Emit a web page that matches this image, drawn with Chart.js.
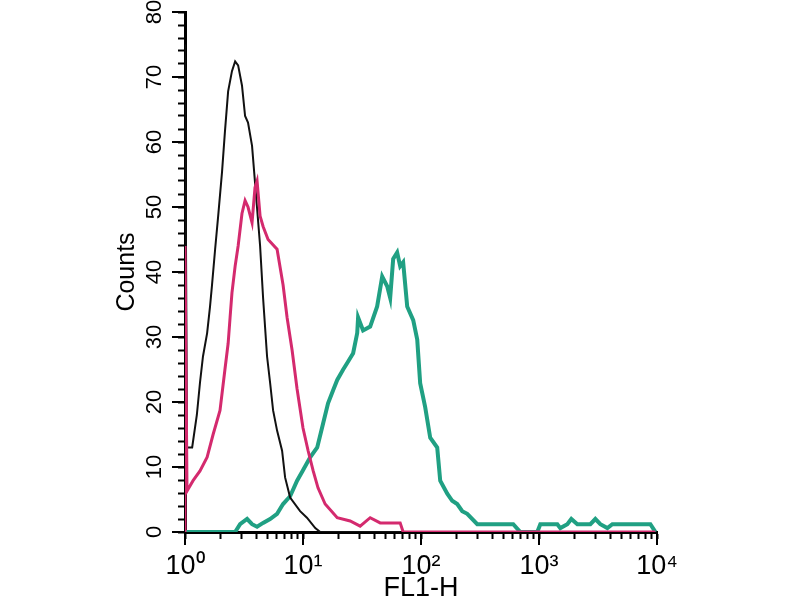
<!DOCTYPE html>
<html>
<head>
<meta charset="utf-8">
<script src="https://cdn.jsdelivr.net/npm/chart.js@4/dist/chart.umd.min.js"></script>
<style>
html,body{margin:0;padding:0;background:#fff;}
#wrap{width:800px;height:600px;}
</style>
</head>
<body>
<div id="wrap"><canvas id="c" width="800" height="600"></canvas></div>
<script>
// ---- data ----
const blackFL = [1, 1, 1.04, 1.15, 1.26, 1.34, 1.42, 1.54, 1.63, 1.69, 1.80, 1.91, 2.06, 2.18, 2.32, 2.50, 2.66, 2.82, 3.04, 3.23, 3.42, 3.70, 3.92, 4.33, 4.59, 4.96, 5.26, 5.58, 6.03, 6.65, 7.05, 7.78, 9.45, 10.8, 12.7, 14.0, 66.6];
const blackCounts = [0, 75, 13, 13, 18, 23, 27, 30.6, 34.7, 37.8, 43.5, 48.6, 55.4, 61.6, 67.8, 70.9, 72.4, 71.8, 68.7, 64, 63, 59.4, 53.8, 44, 36, 27, 23, 18.7, 15.6, 12.5, 8.4, 5.3, 3.2, 2.2, 0.6, 0, 0];

const pinkFL = [1, 1, 1.04, 1.17, 1.34, 1.54, 1.73, 1.98, 2.18, 2.32, 2.41, 2.50, 2.66, 2.82, 3.04, 3.23, 3.42, 3.70, 3.92, 4.08, 4.33, 4.59, 5.06, 6.03, 6.78, 7.33, 8.08, 8.91, 10.0, 11.05, 12.2, 13.4, 15.4, 19.5, 25.1, 30.5, 37.1, 45.1, 66.6, 70.6, 9690];
const pinkCounts = [0, 44, 6.3, 7.9, 9.4, 11.5, 15, 18.7, 25, 29, 33, 36.8, 40.9, 44, 49, 51, 50, 47.6, 53, 54, 48.6, 47, 45, 43.5, 38, 33, 28, 22, 16, 12.5, 9.4, 6.8, 4.3, 2.2, 1.7, 0.9, 2.2, 1.4, 1.4, 0, 0];

const tealFL = [1, 2.66, 2.93, 3.36, 3.70, 4.08, 4.59, 5.26, 6.03, 6.78, 7.78, 8.91, 10.0, 11.5, 13.2, 14.8, 16.3, 18.0, 19.5, 21.9, 23.7, 26.6, 28.8, 29.3, 32.3, 37.1, 42.5, 46.9, 51.7, 54.8, 58.1, 62.8, 66.6, 70.6, 76.4, 85.9, 92.9, 98.4, 108.5, 119.7, 137.2, 145.5, 166.9, 183.9, 202.8, 223.6, 246.6, 299.8, 605, 694, 967, 1026, 1430, 1516, 1738, 1879, 2113, 2724, 3003, 3311, 3796, 4185, 8790, 9690];
const tealCounts = [0, 0, 1.2, 2, 1.2, 0.8, 1.4, 2, 2.8, 4.3, 5.5, 7.9, 9.5, 11.5, 13, 16.7, 19.8, 21.8, 23.4, 25, 26, 27.5, 30.6, 33, 31, 31.6, 34.7, 39.3, 37.8, 36, 42, 43, 40.9, 41.5, 34.7, 32.6, 29.6, 22.9, 19.2, 14.5, 13, 7.9, 5.9, 4.8, 4.3, 3.2, 2.8, 1.2, 1.2, 0, 0, 1.2, 1.2, 0.6, 1.2, 2, 1.2, 1.2, 2, 1.2, 0.6, 1.2, 1.2, 0];

// ---- tick labels ----
const xDecades = [1, 10, 100, 1000, 10000];
const xTickLabels = ['10\u2070', '10\u00B9', '10\u00B2', '10\u00B3', '10\u2074'];
const yMajor = [0, 10, 20, 30, 40, 50, 60, 70, 80];
const yTickLabels = ['0', '10', '20', '30', '40', '50', '60', '70', '80'];
const xTitle = 'FL1-H';
const yTitle = 'Counts';

const FONT = "'Liberation Sans', Arial, sans-serif";

function pts(xs, ys) { return xs.map((v, i) => ({x: v, y: ys[i]})); }

const xTickVals = [];
xDecades.forEach((d, i) => {
  if (i < xDecades.length - 1) { for (let k = 1; k <= 9; k++) xTickVals.push(d * k); }
  else xTickVals.push(d);
});
const yTickVals = [];
for (let v = 0; v <= 80; v += 2) yTickVals.push(v);

const majorTicks = {
  id: 'majorTicks',
  beforeDatasetsDraw(chart) {
    const {ctx, scales: {x, y}} = chart;
    ctx.save();
    ctx.strokeStyle = '#000';
    ctx.lineWidth = 2;
    yMajor.forEach(v => {
      const py = Math.round(y.getPixelForValue(v));
      ctx.beginPath(); ctx.moveTo(y.right - 13, py); ctx.lineTo(y.right, py); ctx.stroke();
    });
    xDecades.forEach(v => {
      const px = Math.round(x.getPixelForValue(v));
      ctx.beginPath(); ctx.moveTo(px, x.top); ctx.lineTo(px, x.top + 13); ctx.stroke();
    });
    ctx.restore();
  }
};

new Chart(document.getElementById('c'), {
  type: 'line',
  data: {
    datasets: [
      {label: 'isotype', order: 1, data: pts(blackFL, blackCounts), borderColor: '#111111', borderWidth: 2, pointRadius: 0, tension: 0, fill: false},
      {label: 'unstained', order: 0, data: pts(pinkFL, pinkCounts), borderColor: '#d42a6e', borderWidth: 3, pointRadius: 0, tension: 0, fill: false},
      {label: 'antibody', order: 2, data: pts(tealFL, tealCounts), borderColor: '#20a083', borderWidth: 4, pointRadius: 0, tension: 0, fill: false}
    ]
  },
  options: {
    responsive: false,
    animation: false,
    devicePixelRatio: 1,
    layout: {padding: {top: 12, right: 143, bottom: 0, left: 0}},
    plugins: {legend: {display: false}, tooltip: {enabled: false}},
    scales: {
      x: {
        type: 'logarithmic', min: 1, max: 10000, position: 'bottom',
        afterBuildTicks: s => { s.ticks = xTickVals.map(v => ({value: v})); },
        afterFit: s => { s.height = 68; s.paddingLeft = 0; s.paddingRight = 0; },
        ticks: {
          autoSkip: false, maxRotation: 0, minRotation: 0, padding: 11, color: '#000',
          font: {family: FONT, size: 27},
          callback: v => { const i = xDecades.indexOf(v); return i >= 0 ? xTickLabels[i] : ''; }
        },
        grid: {drawOnChartArea: false, drawTicks: true, tickLength: 7, tickWidth: 2, tickColor: '#000'},
        border: {display: true, color: '#000', width: 3},
        title: {display: true, text: xTitle, color: '#000', font: {family: FONT, size: 27, lineHeight: 1}, padding: {top: 0, bottom: -2}}
      },
      y: {
        type: 'linear', min: 0, max: 80, position: 'left',
        afterBuildTicks: s => { s.ticks = yTickVals.map(v => ({value: v})); },
        afterFit: s => { s.width = 185; s.paddingTop = 0; s.paddingBottom = 0; },
        ticks: {
          autoSkip: false, minRotation: 90, maxRotation: 90, crossAlign: 'center', padding: 11, color: '#000',
          font: {family: FONT, size: 22},
          callback: v => { const i = yMajor.indexOf(v); return i >= 0 ? yTickLabels[i] : ''; }
        },
        grid: {drawOnChartArea: false, drawTicks: true, tickLength: 7, tickWidth: 2, tickColor: '#000'},
        border: {display: true, color: '#000', width: 3},
        title: {display: true, text: yTitle, color: '#000', font: {family: FONT, size: 25, lineHeight: 1}, padding: {top: 115, bottom: 0}}
      }
    }
  },
  plugins: [majorTicks]
});
</script>
</body>
</html>
